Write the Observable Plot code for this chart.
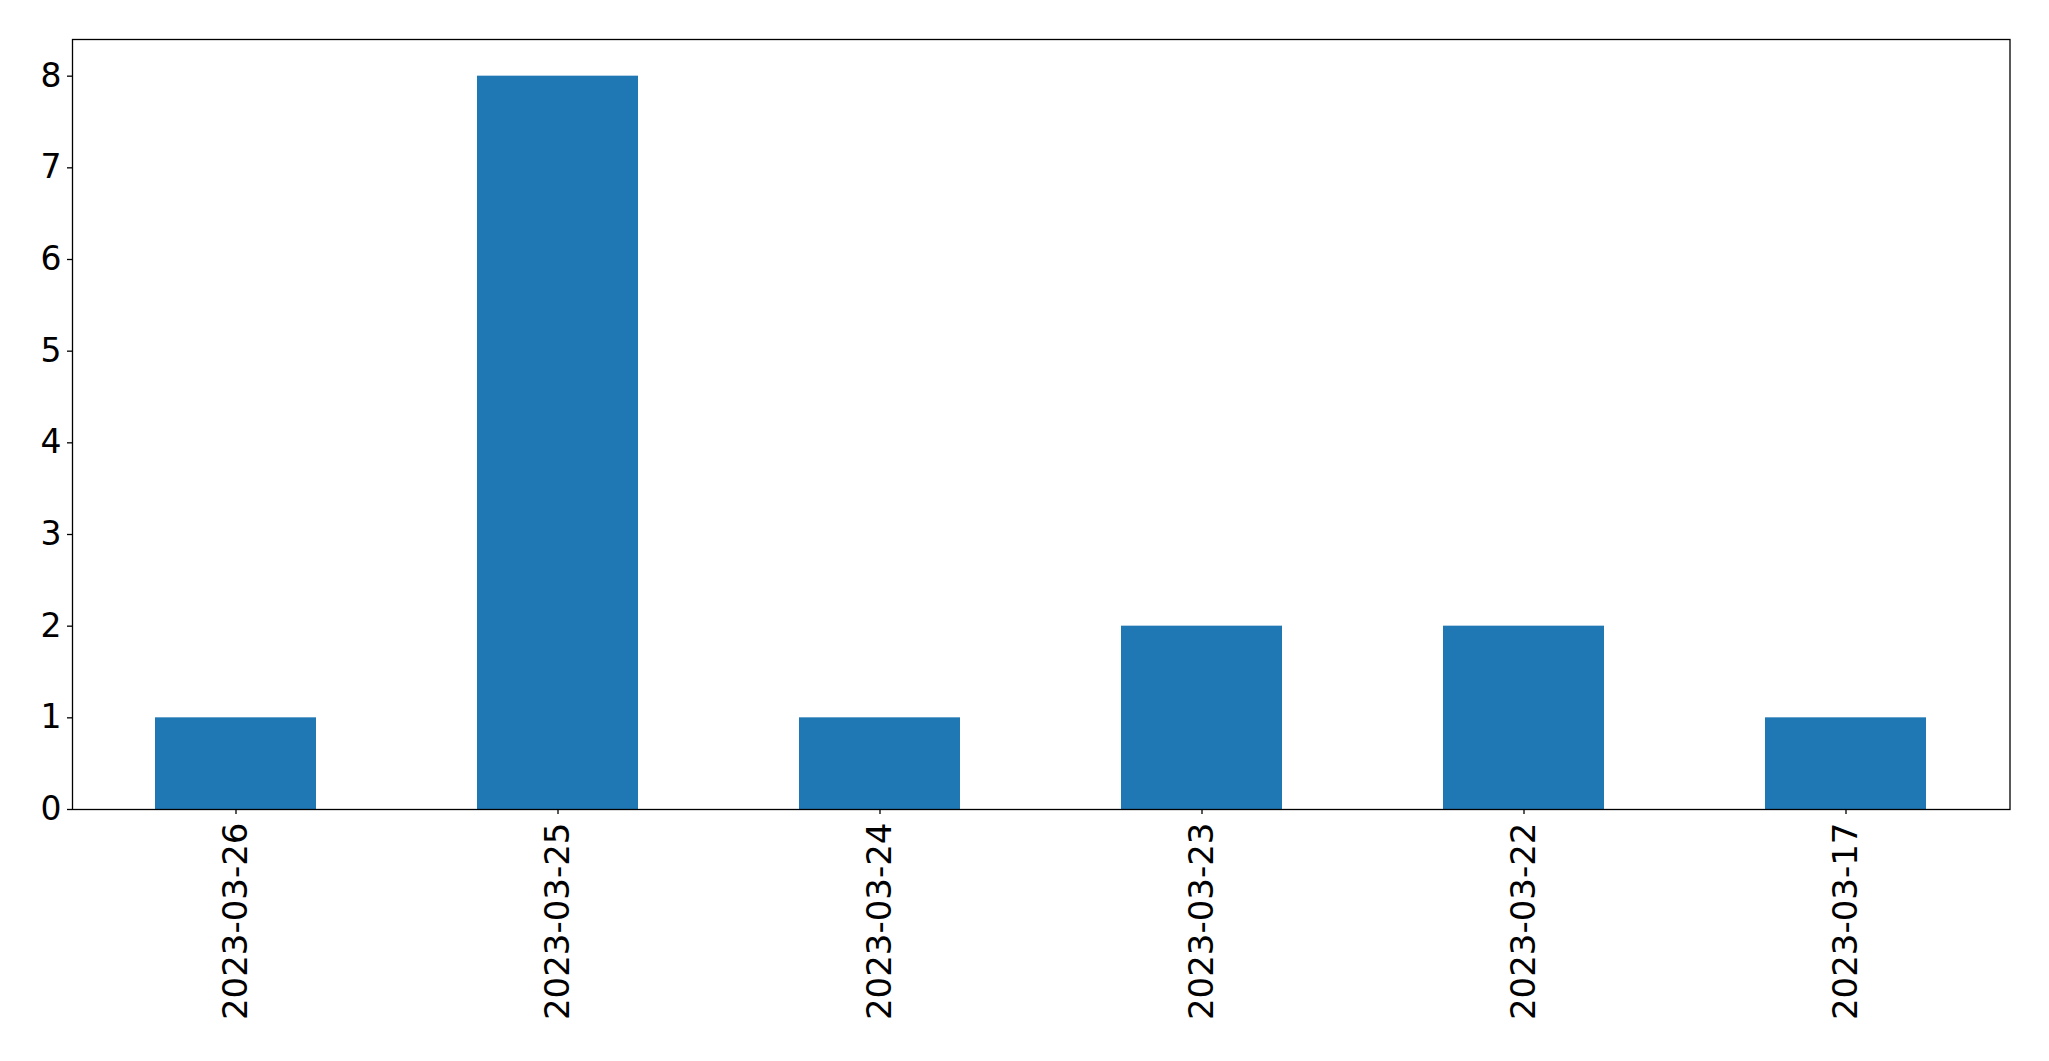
<!DOCTYPE html>
<html>
<head>
<meta charset="utf-8">
<script src="https://cdn.jsdelivr.net/npm/d3@7"></script>
<script src="https://cdn.jsdelivr.net/npm/@observablehq/plot@0.6"></script>
<style>
  html, body { margin: 0; padding: 0; background: #fff; }
  #chart svg, #chart svg text { font-family: "DejaVu Sans", sans-serif !important; }
</style>
</head>
<body>
<div id="chart"></div>
<script>
const dates = ["2023-03-26", "2023-03-25", "2023-03-24", "2023-03-23", "2023-03-22", "2023-03-17"];
const counts = [1, 8, 1, 2, 2, 1];
const yTicks = [0, 1, 2, 3, 4, 5, 6, 7, 8];

const data = dates.map((d, i) => ({date: d, count: counts[i]}));

const chart = Plot.plot({
  width: 2049,
  height: 1061,
  marginLeft: 72,
  marginRight: 39.5,
  marginTop: 39,
  marginBottom: 252,
  style: {fontFamily: "DejaVu Sans", fontSize: "34px", background: "#fff", color: "#000"},
  x: {type: "band", domain: dates, paddingInner: 0.5, paddingOuter: 0.25, label: null},
  y: {domain: [0, 8.4], label: null},
  marks: [
    Plot.barY(data, {x: "date", y: "count", fill: "#1f77b4"}),
    Plot.frame({stroke: "#000", strokeWidth: 1.3}),
    Plot.axisY({ticks: yTicks, tickSize: 5, tickPadding: 6, fontSize: 33, tickFormat: d3.format("d"), label: null, stroke: "#000", strokeWidth: 1.3}),
    Plot.axisX({tickSize: 5, tickPadding: 8, tickRotate: -90, fontSize: 34, label: null, stroke: "#000", strokeWidth: 1.3})
  ]
});
document.getElementById("chart").appendChild(chart);
</script>
</body>
</html>
